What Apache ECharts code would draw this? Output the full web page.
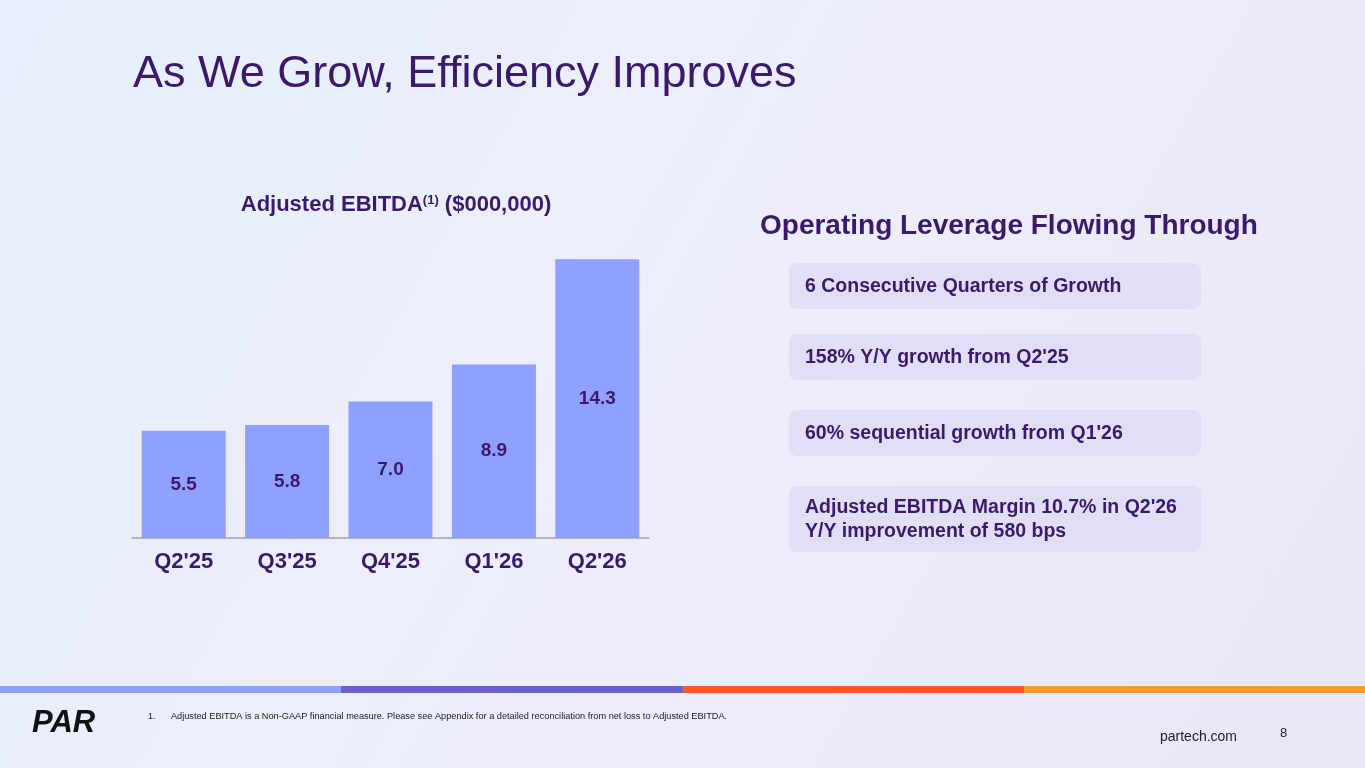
<!DOCTYPE html>
<html>
<head>
<meta charset="utf-8">
<script src="https://cdn.jsdelivr.net/npm/echarts@6/dist/echarts.min.js"></script>
<style>
  html, body { margin: 0; padding: 0; }
  #chart { width: 1365px; height: 768px; background: linear-gradient(120deg, #e6effd 0%, #eeeefb 50%, #e9e6f8 100%); }
</style>
</head>
<body>
<div id="chart"></div>
<script>
const categories = ["Q2'25", "Q3'25", "Q4'25", "Q1'26", "Q2'26"];
const ebitda = [5.5, 5.8, 7.0, 8.9, 14.3];
const highlights = [
  '6 Consecutive Quarters of Growth',
  "158% Y/Y growth from Q2'25",
  "60% sequential growth from Q1'26",
  "Adjusted EBITDA Margin 10.7% in Q2'26\nY/Y improvement of 580 bps",
];

const purple = '#3b1a6b';
const font = 'Liberation Sans';
const boxes = [[263, 46], [334, 46], [410, 46], [486, 66]];
const stripe = ['#8fa0ff', '#6a5fd6', '#ff5a1f', '#ff9a2a'];

const graphic = [
  { type: 'text', left: 133, top: 52, style: { text: 'As We Grow, Efficiency Improves', font: '45px "Liberation Sans"', fill: purple } },
  { type: 'text', left: 760, top: 212, style: { text: 'Operating Leverage Flowing Through', font: 'bold 28px "Liberation Sans"', fill: purple } },
  { type: 'rect', left: 0, top: 686, shape: { width: 341, height: 7 }, style: { fill: stripe[0] } },
  { type: 'rect', left: 341, top: 686, shape: { width: 342, height: 7 }, style: { fill: stripe[1] } },
  { type: 'rect', left: 683, top: 686, shape: { width: 341, height: 7 }, style: { fill: stripe[2] } },
  { type: 'rect', left: 1024, top: 686, shape: { width: 341, height: 7 }, style: { fill: stripe[3] } },
  { type: 'text', left: 32, top: 708, style: { text: 'PAR', font: 'italic 900 31px "Liberation Sans"', fill: '#111' } },
  { type: 'text', left: 148, top: 712, style: { text: '1.      Adjusted EBITDA is a Non-GAAP financial measure. Please see Appendix for a detailed reconciliation from net loss to Adjusted EBITDA.', font: '9.2px "Liberation Sans"', fill: '#222' } },
  { type: 'text', left: 1160, top: 730, style: { text: 'partech.com', font: '14px "Liberation Sans"', fill: '#222' } },
  { type: 'text', left: 1280, top: 727, style: { text: '8', font: '13px "Liberation Sans"', fill: '#222' } },
];
highlights.forEach((t, i) => {
  const [y, h] = boxes[i];
  const lines = t.split('\n').length;
  graphic.push({ type: 'rect', left: 789, top: y, shape: { width: 412, height: h, r: 8 }, style: { fill: '#e2def5' } });
  graphic.push({ type: 'text', left: 805, top: y + (h - lines * 24) / 2 + 1, style: { text: t, font: 'bold 19.5px "Liberation Sans"', fill: purple, lineHeight: 24 } });
});

const chart = echarts.init(document.getElementById('chart'), null, { width: 1365, height: 768 });
chart.setOption({
  animation: false,
  textStyle: { fontFamily: font },
  title: {
    text: 'Adjusted EBITDA{sup|(1)} ($000,000)',
    left: 391, top: 189, textAlign: 'center',
    textStyle: {
      fontSize: 22, fontWeight: 'bold', color: purple,
      rich: { sup: { fontSize: 13, fontWeight: 'bold', color: purple, verticalAlign: 'top', padding: [0, 0, 8, 0] } },
    },
  },
  grid: { left: 132, right: 716, top: 226, bottom: 230 },
  xAxis: {
    type: 'category',
    data: categories,
    axisTick: { show: false },
    axisLine: { lineStyle: { color: '#a0a0a8', width: 1.5 } },
    axisLabel: { fontSize: 22, fontWeight: 'bold', color: purple, margin: 13 },
  },
  yAxis: { type: 'value', min: 0, max: 16, show: false },
  series: [{
    type: 'bar',
    data: ebitda,
    barWidth: 84,
    itemStyle: { color: '#8fa0ff' },
    label: { show: true, position: 'inside', fontSize: 19, fontWeight: 'bold', color: purple, formatter: (p) => p.value.toFixed(1) },
  }],
  graphic,
});
</script>
</body>
</html>
